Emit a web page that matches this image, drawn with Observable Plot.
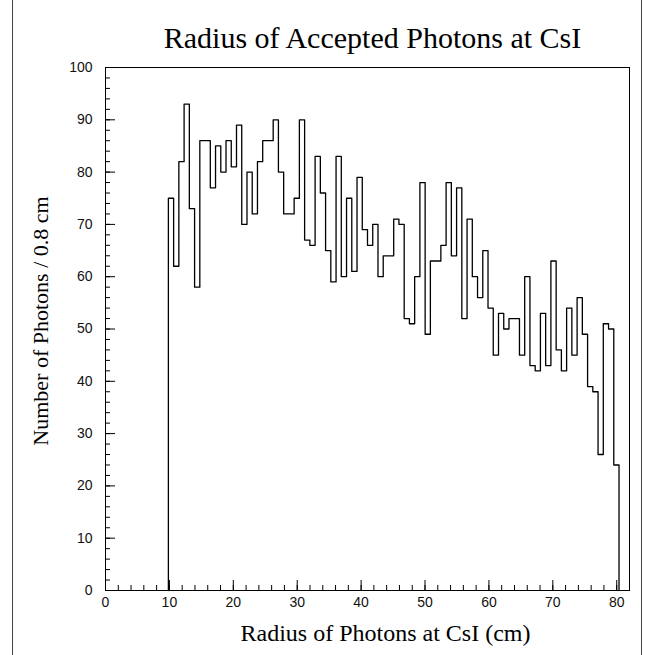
<!DOCTYPE html>
<html>
<head>
<meta charset="utf-8">
<script src="https://cdn.jsdelivr.net/npm/d3@7"></script>
<script src="https://cdn.jsdelivr.net/npm/@observablehq/plot@0.6"></script>
<style>
  html, body { margin: 0; padding: 0; background: #fff; }
  #wrap { position: relative; width: 654px; height: 655px; }
  .edge { position: absolute; top: 0; width: 1px; height: 655px; background: #444; }
</style>
</head>
<body>
<div id="wrap">
  <div class="edge" style="left:12px"></div>
  <div class="edge" style="left:641px"></div>
</div>
<script>
// ---- data ----
const title = "Radius of Accepted Photons at CsI";
const xTitle = "Radius of Photons at CsI (cm)";
const yTitle = "Number of Photons / 0.8 cm";
const binStart = 9.84;   // left edge of first filled bin (cm)
const binWidth = 0.82;   // bin width (cm)
const counts = [
  75, 62, 82, 93, 73, 58, 86, 86, 77, 85, 80, 86, 81, 89, 70, 80, 72, 82, 86, 86,
  90, 80, 72, 72, 75, 90, 67, 66, 83, 76, 65, 59, 83, 60, 75, 61, 79, 69, 66, 70,
  60, 64, 64, 71, 70, 52, 51, 60, 78, 49, 63, 63, 66, 78, 64, 77, 52, 71, 60, 56,
  65, 54, 45, 53, 50, 52, 52, 45, 60, 43, 42, 53, 43, 63, 46, 42, 54, 45, 56, 49,
  39, 38, 26, 51, 50, 24
];
const xMajor = [0, 10, 20, 30, 40, 50, 60, 70, 80];
const xMinor = d3.range(0, 82, 2);
const yMajor = [0, 10, 20, 30, 40, 50, 60, 70, 80, 90, 100];
const yMinor = d3.range(0, 101, 2);

// step outline points
const pts = [{x: binStart, y: 0}];
counts.forEach((c, i) => pts.push({x: binStart + i * binWidth, y: c}));
pts.push({x: binStart + counts.length * binWidth, y: 0});

const tickFont = "Liberation Sans, Arial, sans-serif";
const serif = "Liberation Serif, Times New Roman, serif";

const chart = Plot.plot({
  width: 654,
  height: 655,
  marginLeft: 105,
  marginRight: 25,
  marginTop: 67,
  marginBottom: 65,
  style: {background: "transparent", fontFamily: tickFont, color: "#000"},
  x: {domain: [0, 82], axis: null},
  y: {domain: [0, 100], axis: null},
  marks: [
    Plot.axisX(xMinor, {tickSize: -5, text: null, label: null, stroke: "#000"}),
    Plot.axisX(xMajor, {tickSize: -10, text: null, label: null, stroke: "#000"}),
    Plot.axisX(xMajor, {tickSize: 0, tickPadding: 7, label: null, fontSize: 14, fill: "#111"}),
    Plot.axisY(yMinor, {tickSize: -5, text: null, label: null, stroke: "#000"}),
    Plot.axisY(yMajor, {tickSize: -10, text: null, label: null, stroke: "#000"}),
    Plot.axisY(yMajor, {tickSize: 0, tickPadding: 13, label: null, fontSize: 14, fill: "#111"}),
    Plot.line(pts, {x: "x", y: "y", curve: "step-after", stroke: "#000", strokeWidth: 1.3}),
    Plot.frame({stroke: "#000", strokeWidth: 1}),
    Plot.text([title], {frameAnchor: "top", lineAnchor: "middle", textAnchor: "middle", dy: -29, dx: 5, fontSize: 30, fontFamily: serif, fill: "#000"}),
    Plot.text([xTitle], {frameAnchor: "bottom", lineAnchor: "middle", textAnchor: "middle", dy: 43, dx: 18, fontSize: 24, fontFamily: serif, fill: "#000"}),
    Plot.text([yTitle], {frameAnchor: "left", lineAnchor: "middle", textAnchor: "middle", dx: -65, dy: -8, rotate: -90, fontSize: 22, fontFamily: serif, fill: "#000"})
  ]
});
document.getElementById("wrap").appendChild(chart);
</script>
</body>
</html>
